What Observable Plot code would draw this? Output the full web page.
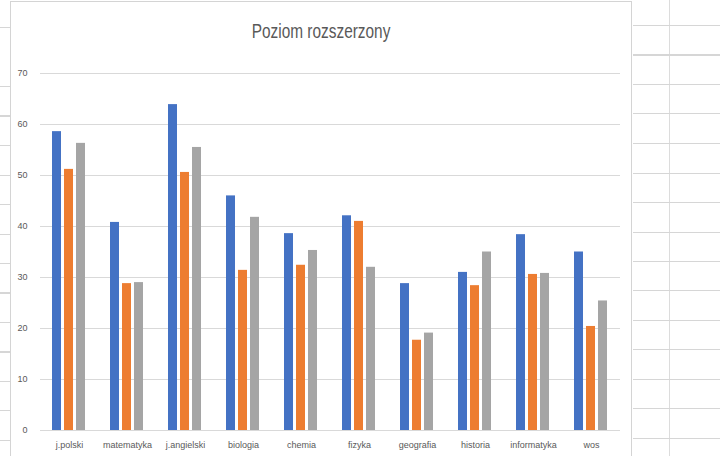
<!DOCTYPE html>
<html>
<head>
<meta charset="utf-8">
<script src="https://cdn.jsdelivr.net/npm/d3@7"></script>
<script src="https://cdn.jsdelivr.net/npm/@observablehq/plot@0.6"></script>
<style>
  body { margin: 0; background: #fff; }
  #wrap { position: relative; width: 720px; height: 456px; overflow: hidden; font-family: "Liberation Sans", sans-serif; }
  #sheetR { position: absolute; left: 633px; top: 0; width: 87px; height: 456px;
    background-image:
      repeating-linear-gradient(to bottom, transparent 0 25px, #d6d6d6 25px 26px, transparent 26px 29.5px),
      linear-gradient(to right, transparent 0 36px, #dcdcdc 36px 37px, transparent 37px); }
  #sheetL { position: absolute; left: 0; top: 0; width: 10px; height: 456px;
    background-image: repeating-linear-gradient(to bottom, transparent 0 27px, #d6d6d6 27px 28px, transparent 28px 29.5px); }
  #box { position: absolute; left: 10px; top: 1px; width: 622px; height: 470px; border: 1px solid #d4d4d4; box-sizing: border-box; }
  #title { position: absolute; left: 10px; width: 622px; top: 20px; text-align: center; color: #595959; }
  #title span { display: inline-block; font-size: 20px; transform: scaleX(0.77); transform-origin: center; }
  #chart { position: absolute; left: 0; top: 0; }
</style>
</head>
<body>
<div id="wrap">
  <div id="sheetL"></div>
  <div id="sheetR"></div>
  <div id="box"></div>
  <div id="title"><span>Poziom rozszerzony</span></div>
  <div id="chart"></div>
</div>
<script>
const categories = ["j.polski", "matematyka", "j.angielski", "biologia", "chemia", "fizyka", "geografia", "historia", "informatyka", "wos"];
const seriesNames = ["Seria1", "Seria2", "Seria3"];
const series1 = [58.6, 40.8, 63.9, 46.0, 38.6, 42.1, 28.8, 31.0, 38.4, 35.0];
const series2 = [51.2, 28.8, 50.6, 31.4, 32.4, 41.0, 17.7, 28.4, 30.6, 20.4];
const series3 = [56.3, 29.0, 55.5, 41.8, 35.3, 32.0, 19.1, 35.0, 30.8, 25.4];
const yTicks = [0, 10, 20, 30, 40, 50, 60, 70];
const colors = ["#4472C4", "#ED7D31", "#A5A5A5"];

const all = [series1, series2, series3];
const data = categories.flatMap((c, i) => seriesNames.map((s, j) => ({ c, s, v: all[j][i] })));

const chart = Plot.plot({
  width: 720,
  height: 456,
  marginLeft: 40,
  marginRight: 100,
  marginTop: 73,
  marginBottom: 26,
  style: { fontFamily: "'Liberation Sans', sans-serif", fontSize: "9px", color: "#595959", background: "transparent" },
  fx: { domain: categories, padding: 0, label: null, axis: "bottom", tickSize: 0, tickPadding: 11 },
  x: { domain: seriesNames, axis: null, paddingInner: 0.23, paddingOuter: 0.85 },
  y: { domain: [0, 70], label: null, axis: null },
  color: { domain: seriesNames, range: colors },
  marks: [
    Plot.gridY(yTicks.filter(d => d > 0), { stroke: "#d9d9d9", strokeOpacity: 1, strokeWidth: 1 }),
    Plot.axisY(yTicks, { tickSize: 0, tickPadding: 13, label: null, fill: "#595959" }),
    Plot.barY(data, { fx: "c", x: "s", y: "v", fill: "s" }),
    Plot.ruleY([0], { stroke: "#d9d9d9" })
  ]
});
document.getElementById("chart").appendChild(chart);
</script>
</body>
</html>
